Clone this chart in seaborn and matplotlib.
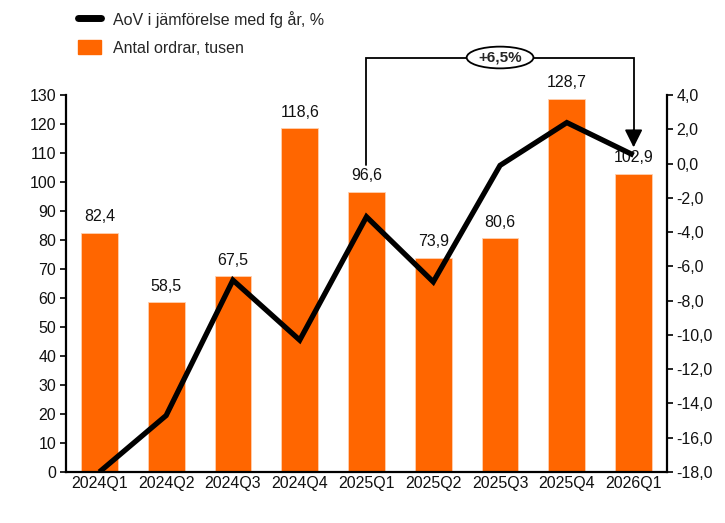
import numpy as np
import pandas as pd
import matplotlib
matplotlib.use("Agg")
import matplotlib.pyplot as plt
import seaborn as sns
from matplotlib.ticker import FuncFormatter, MultipleLocator
from matplotlib.lines import Line2D
from matplotlib.patches import Patch, Ellipse

categories = ["2024Q1", "2024Q2", "2024Q3", "2024Q4", "2025Q1",
              "2025Q2", "2025Q3", "2025Q4", "2026Q1"]
orders = [82.4, 58.5, 67.5, 118.6, 96.6, 73.9, 80.6, 128.7, 102.9]
aov = [-18.0, -14.7, -6.8, -10.3, -3.1, -6.9, -0.1, 2.4, 0.5]
bar_label = "Antal ordrar, tusen"
line_label = "AoV i jämförelse med fg år, %"
change_label = "+6,5%"

sns.set_theme(style="white")
plt.rcParams["font.family"] = ["Liberation Sans", "DejaVu Sans"]

ORANGE = "#FF6600"
FS = 11.5
fig = plt.figure(figsize=(7.25, 5.23), dpi=100)
ax = fig.add_axes([0.091, 0.0975, 0.829, 0.7205])

df = pd.DataFrame({"q": categories, "orders": orders})
sns.barplot(data=df, x="q", y="orders", ax=ax, color=ORANGE, saturation=1,
            width=0.55, edgecolor="#FFD0B0", linewidth=0.6)
ax.set_xlim(-0.5, len(categories) - 0.5)
ax.set_ylim(0, 130)
ax.yaxis.set_major_locator(MultipleLocator(10))
ax.set_xlabel("")
ax.set_ylabel("")
for i, v in enumerate(orders):
    ax.text(i, v + 3, f"{v:.1f}".replace(".", ","), ha="center", va="bottom",
            fontsize=FS, color="#111111")

ax2 = ax.twinx()
sns.lineplot(x=np.arange(len(categories)), y=aov, ax=ax2, color="black",
             linewidth=3.8, solid_joinstyle="miter", solid_capstyle="butt")
ax2.set_ylim(-18, 4)
ax2.yaxis.set_major_locator(MultipleLocator(2))
ax2.yaxis.set_major_formatter(FuncFormatter(lambda v, p: f"{v:.1f}".replace(".", ",")))

for a in (ax, ax2):
    a.spines["top"].set_visible(False)
    for s in ("left", "right", "bottom"):
        a.spines[s].set_color("black")
        a.spines[s].set_linewidth(1.6)
ax.spines["right"].set_visible(False)
ax2.spines["left"].set_visible(False)
ax2.spines["bottom"].set_visible(False)

ax.tick_params(axis="y", which="major", direction="out", length=4, width=1.2,
               colors="black", labelsize=FS, pad=3, left=True)
ax.tick_params(axis="x", length=0, labelsize=FS, pad=3, colors="black")
ax2.tick_params(axis="y", which="major", direction="out", length=4, width=1.2,
                colors="black", labelsize=FS, pad=3, right=True)
for t in ax.get_xticklabels() + ax.get_yticklabels() + ax2.get_yticklabels():
    t.set_color("#111111")

# bracket annotation from 2025Q1 to 2026Q1
x0, x1 = 4, 8
ax.plot([x0, x0, x1, x1], [106, 143, 143, 117], color="black", lw=1.3,
        clip_on=False, solid_joinstyle="miter")
ax.annotate("", xy=(x1, 112), xytext=(x1, 118),
            arrowprops=dict(arrowstyle="-|>,head_length=0.9,head_width=0.45",
                            color="black", lw=1.3, shrinkA=0, shrinkB=0),
            annotation_clip=False)
xm = (x0 + x1) / 2
ell = Ellipse((xm, 143), width=1.0, height=7.5, facecolor="white",
              edgecolor="black", lw=1.3, clip_on=False, zorder=5)
ax.add_patch(ell)
ax.text(xm, 143, change_label, ha="center", va="center", fontsize=11,
        fontweight="bold", zorder=6, clip_on=False)

handles = [Line2D([0], [0], color="black", lw=5, solid_capstyle="round"),
           Patch(facecolor=ORANGE, edgecolor=ORANGE)]
fig.legend(handles, [line_label, bar_label], loc="upper left",
           bbox_to_anchor=(0.088, 1.007), frameon=False, fontsize=FS,
           handlelength=1.45, handleheight=1.05, labelspacing=0.75,
           handletextpad=0.75)

fig.savefig("out.png", dpi=100)
